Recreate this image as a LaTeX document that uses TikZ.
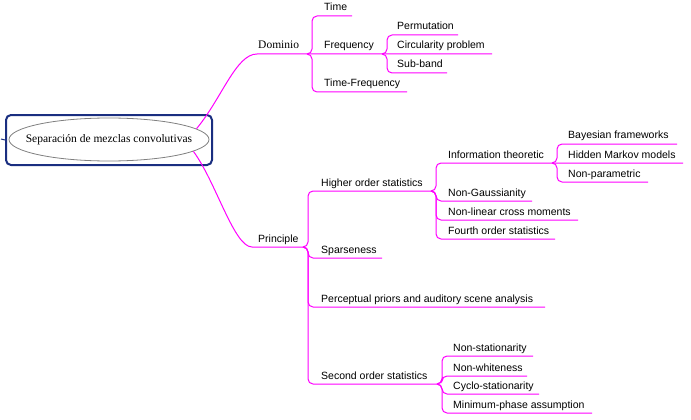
\documentclass[tikz,border=0pt]{standalone}
\usepackage{fontspec}
\setmainfont{Liberation Serif}
\newfontfamily\labelfont{Liberation Sans}
\usetikzlibrary{shapes.geometric}
\definecolor{mag}{HTML}{FF00FF}
\definecolor{navy}{HTML}{1A2E80}
\tikzset{
  br/.style={draw=mag, line width=1pt, rounded corners=5pt},
  lbl/.style={anchor=base west, inner sep=0pt, font=\labelfont\fontsize{10.5}{12}\selectfont},
  slbl/.style={anchor=base west, inner sep=0pt, font=\fontsize{11.5}{13}\selectfont},
}
\begin{document}
\begin{tikzpicture}[x=1pt,y=-1pt]
\useasboundingbox (0,0) rectangle (691,420);
% root
\node[draw=navy, line width=2pt, rounded corners=5pt, minimum width=206pt, minimum height=50pt] (rootbox) at (109,140) {};
\node[ellipse, draw=gray, fill=white, line width=0.8pt, minimum width=200pt, minimum height=43pt, inner sep=0pt] (root) at (109,139.5) {};
\node[inner sep=0pt, font=\fontsize{11.5}{13}\selectfont] (roottext) at (root.center) {Separación de mezclas convolutivas};
\coordinate (stub) at (1,139);
\draw[navy, line width=1pt] (stub) -- (rootbox.west);
% branch ends (coordinates of underline ends)
\coordinate (dom-s) at (262,54);
\coordinate (dom-e) at (307,54);
\coordinate (time-e) at (352,16);
\coordinate (freq-e) at (382,54);
\coordinate (tf-e) at (407,92);
\coordinate (perm-e) at (458,35);
\coordinate (circ-e) at (492,54);
\coordinate (sub-e) at (447,73);
\coordinate (prin-s) at (257,247);
\coordinate (prin-e) at (303,247);
\coordinate (hos-e) at (431,191);
\coordinate (sp-e) at (382,258);
\coordinate (perc-e) at (545,307);
\coordinate (sos-e) at (437,384);
\coordinate (it-e) at (552,163);
\coordinate (ng-e) at (532,201);
\coordinate (nl-e) at (578,220);
\coordinate (fo-e) at (555,239);
\coordinate (bay-e) at (677,144);
\coordinate (hmm-e) at (683,163);
\coordinate (np-e) at (648,182);
\coordinate (ns-e) at (533,356);
\coordinate (nw-e) at (527,376);
\coordinate (cs-e) at (539,394);
\coordinate (mp-e) at (592,413);
% labels
\node[slbl] (dom) at (258,49) {Dominio};
\node[lbl] (time) at (324,11) {Time};
\node[lbl] (freq) at (324,49) {Frequency};
\node[lbl] (tf) at (324,87) {Time-Frequency};
\node[lbl] (perm) at (397,30) {Permutation};
\node[lbl] (circ) at (397,49) {Circularity problem};
\node[lbl] (sub) at (397,68) {Sub-band};
\node[lbl] (prin) at (258,242) {Principle};
\node[lbl] (hos) at (321,186) {Higher order statistics};
\node[lbl] (sp) at (321,253) {Sparseness};
\node[lbl] (perc) at (321,302) {Perceptual priors and auditory scene analysis};
\node[lbl] (sos) at (321,379) {Second order statistics};
\node[lbl] (it) at (448,158) {Information theoretic};
\node[lbl] (ng) at (448,196) {Non-Gaussianity};
\node[lbl] (nl) at (448,215) {Non-linear cross moments};
\node[lbl] (fo) at (448,234) {Fourth order statistics};
\node[lbl] (bay) at (568,139) {Bayesian frameworks};
\node[lbl] (hmm) at (568,158) {Hidden Markov models};
\node[lbl] (np) at (568,177) {Non-parametric};
\node[lbl] (ns) at (453,351) {Non-stationarity};
\node[lbl] (nw) at (453,371) {Non-whiteness};
\node[lbl] (cs) at (453,389) {Cyclo-stationarity};
\node[lbl] (mp) at (453,408) {Minimum-phase assumption};
% root connectors (continuing through the straight child lines)
\draw[br] (root.7) .. controls (222,98) and (236,54) .. (dom-s) -- (dom-e) -- (freq-e) -- (circ-e);
\draw[br] (root.-8) .. controls (216,182) and (234,247) .. (prin-s) -- (prin-e);
% Dominio
\draw[br] (dom-e) -- ++(5,0) |- (time-e);
\draw[br] (dom-e) -- ++(5,0) |- (tf-e);
\draw[br] (freq-e) -- ++(5,0) |- (perm-e);
\draw[br] (freq-e) -- ++(5,0) |- (sub-e);
% Principle
\draw[br] (prin-e) -- ++(5,0) |- (hos-e);
\draw[br] (prin-e) -- ++(5,0) |- (sp-e);
\draw[br] (prin-e) -- ++(5,0) |- (perc-e);
\draw[br] (prin-e) -- ++(5,0) |- (sos-e);
\draw[br] (hos-e) -- ++(5,0) |- (it-e) -- (hmm-e);
\draw[br] (hos-e) -- ++(5,0) |- (ng-e);
\draw[br] (hos-e) -- ++(5,0) |- (nl-e);
\draw[br] (hos-e) -- ++(5,0) |- (fo-e);
\draw[br] (it-e) -- ++(5,0) |- (bay-e);
\draw[br] (it-e) -- ++(5,0) |- (np-e);
\draw[br] (sos-e) -- ++(5,0) |- (ns-e);
\draw[br] (sos-e) -- ++(5,0) |- (nw-e);
\draw[br] (sos-e) -- ++(5,0) |- (cs-e);
\draw[br] (sos-e) -- ++(5,0) |- (mp-e);
\end{tikzpicture}
\end{document}
